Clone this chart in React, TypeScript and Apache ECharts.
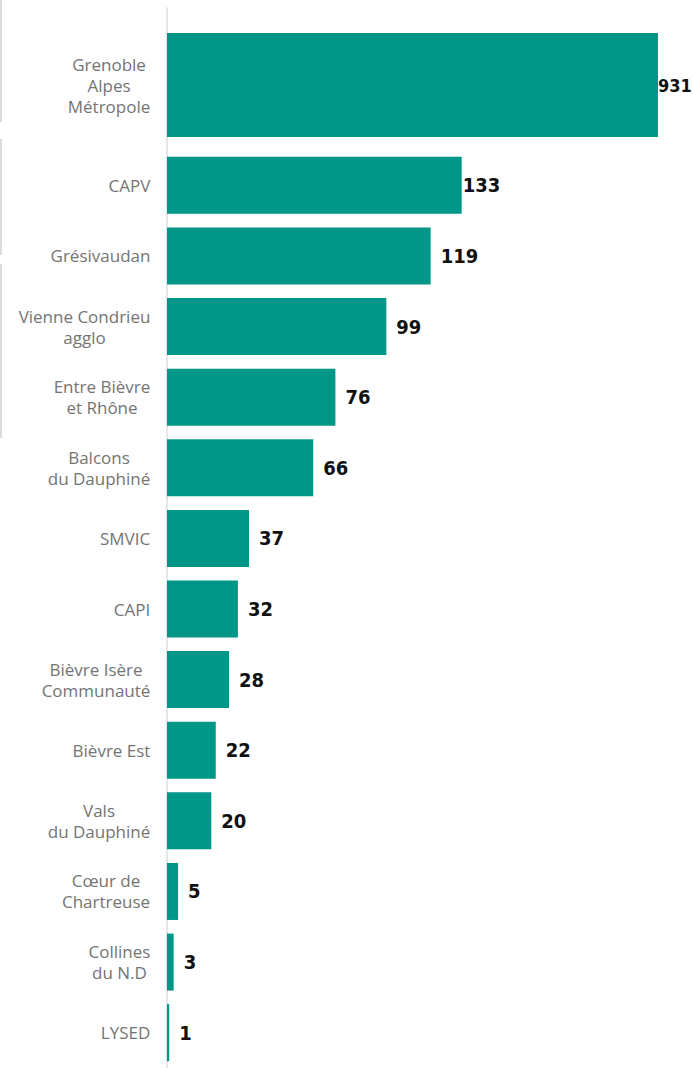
import React, { useEffect, useRef } from "react";
import * as echarts from "echarts";

const topCategory = ["Grenoble\nAlpes\nMétropole"];
const topValues = [931];

const categories = [
  "CAPV",
  "Grésivaudan",
  "Vienne Condrieu\nagglo",
  "Entre Bièvre\net Rhône",
  "Balcons\ndu Dauphiné",
  "SMVIC",
  "CAPI",
  "Bièvre Isère\nCommunauté",
  "Bièvre Est",
  "Vals\ndu Dauphiné",
  "Cœur de\nChartreuse",
  "Collines\ndu N.D",
  "LYSED",
];
const values = [133, 119, 99, 76, 66, 37, 32, 28, 22, 20, 5, 3, 1];

const TEAL = "#009688";
const LABEL_SIZE = 17;
const LABEL_FONT = "'Open Sans', Roboto, sans-serif";
const VALUE_FONT = "'DejaVu Sans Condensed', 'Liberation Sans Narrow', sans-serif";

function measure(text: string): number {
  const c = document.createElement("canvas").getContext("2d");
  if (!c) return text.length * 8;
  c.font = `${LABEL_SIZE}px 'Open Sans'`;
  return c.measureText(text).width;
}

function buildRich(cats: string[], prefix: string) {
  const rich: Record<string, any> = {};
  cats.forEach((cat, i) => {
    const w = Math.max(...cat.split("\n").map(measure));
    rich[prefix + i] = {
      width: Math.ceil(w) + 1,
      align: "center",
      fontSize: LABEL_SIZE,
      lineHeight: 21,
      color: "#747474",
      fontFamily: LABEL_FONT,
    };
  });
  return rich;
}

function fmt(prefix: string) {
  return (v: string, i: number) =>
    v
      .split("\n")
      .map((l) => `{${prefix}${i}|${l}}`)
      .join("\n");
}

export default function App() {
  const ref = useRef<HTMLDivElement>(null);
  useEffect(() => {
    document.body.style.margin = "0";
    if (!ref.current) return;
    const chart = echarts.init(ref.current, undefined, { renderer: "svg" });
    const valueLabel = {
      show: true,
      position: "right",
      distance: 10,
      fontFamily: VALUE_FONT,
      fontWeight: "bold",
      fontSize: 20,
      color: "#111",
    };
    const yCommon = {
      type: "category",
      inverse: true,
      axisTick: { show: false },
      axisLine: { show: true, lineStyle: { color: "#e6e6e6", width: 2 } },
      axisLabel: { margin: 16, align: "right" },
    };
    const xCommon = {
      type: "value",
      min: 0,
      show: false,
      splitLine: { show: false },
    };
    chart.setOption({
      animation: false,
      grid: [
        { left: 167, top: 8, width: 491, height: 154 },
        { left: 167, top: 150, width: 491, height: 939 },
      ],
      xAxis: [
        { ...xCommon, gridIndex: 0, max: 931 },
        { ...xCommon, gridIndex: 1, max: 221.6 },
      ],
      yAxis: [
        {
          ...yCommon,
          gridIndex: 0,
          data: topCategory,
          axisLabel: {
            ...yCommon.axisLabel,
            formatter: fmt("t"),
            rich: buildRich(topCategory, "t"),
          },
        },
        {
          ...yCommon,
          gridIndex: 1,
          data: categories,
          axisLabel: {
            ...yCommon.axisLabel,
            formatter: fmt("c"),
            rich: buildRich(categories, "c"),
          },
        },
      ],
      graphic: [
        { type: "line", shape: { x1: 1, y1: 0, x2: 1, y2: 122 }, style: { stroke: "#dcdcdc", lineWidth: 2 } },
        { type: "line", shape: { x1: 1, y1: 139, x2: 1, y2: 255 }, style: { stroke: "#dcdcdc", lineWidth: 2 } },
        { type: "line", shape: { x1: 1, y1: 264, x2: 1, y2: 438 }, style: { stroke: "#dcdcdc", lineWidth: 2 } },
      ],
      series: [
        {
          type: "bar",
          xAxisIndex: 0,
          yAxisIndex: 0,
          barWidth: 104,
          itemStyle: { color: TEAL },
          label: { ...valueLabel, distance: 0, fontSize: 18 },
          data: topValues,
        },
        {
          type: "bar",
          xAxisIndex: 1,
          yAxisIndex: 1,
          barWidth: 57,
          itemStyle: { color: TEAL },
          label: valueLabel,
          data: values.map((v, i) => (i === 0 ? { value: v, label: { distance: 1 } } : v)),
        },
      ],
    });
    return () => chart.dispose();
  }, []);
  return <div ref={ref} style={{ width: 693, height: 1068 }} />;
}
